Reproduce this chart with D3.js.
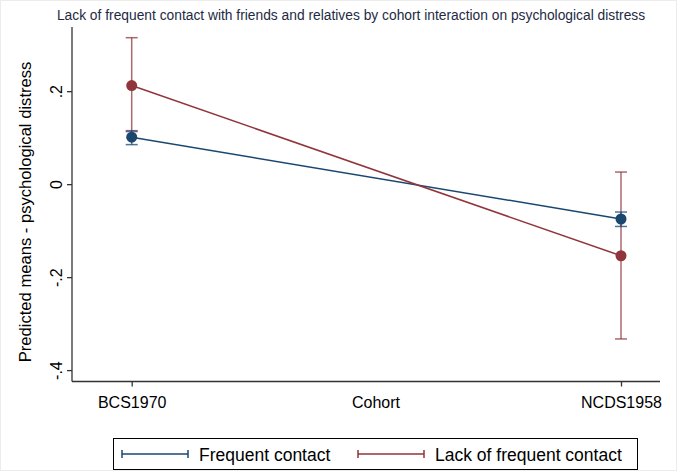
<!DOCTYPE html>
<html>
<head>
<meta charset="utf-8">
<script src="https://cdnjs.cloudflare.com/ajax/libs/d3/7.8.5/d3.min.js"></script>
<style>
  body { margin: 0; background: #fff; }
  text { font-family: "Liberation Sans", Arial, sans-serif; }
</style>
</head>
<body>
<svg id="chart"></svg>
<script>
/** * * * * CONSTANTS * * * */
const width = 677;
const height = 471;

const cohorts = ['BCS1970', 'NCDS1958'];
const seriesNames = ['Frequent contact', 'Lack of frequent contact'];
const frequentMeans = [0.101, -0.075];
const frequentLow = [0.085, -0.091];
const frequentHigh = [0.115, -0.060];
const lackMeans = [0.212, -0.154];
const lackLow = [0.113, -0.333];
const lackHigh = [0.315, 0.026];
const yTicks = [-0.4, -0.2, 0, 0.2];
const yTickLabels = ['-.4', '-.2', '0', '.2'];

const blue = '#1a476f';
const red = '#90353b';

const svg = d3.select('#chart')
  .attr('width', width)
  .attr('height', height);

// faint outer frame
svg.append('rect')
  .attr('x', 0.5).attr('y', 0.5)
  .attr('width', width - 1).attr('height', height - 1)
  .attr('fill', 'none')
  .attr('stroke', '#ececec');

const yScale = d3.scaleLinear()
  .domain([-0.4245, 0.338])
  .range([381.5, 27]);

const xScale = d3.scalePoint()
  .domain(cohorts)
  .range([131.7, 621]);

// axes
const yAxis = svg.append('g')
  .attr('transform', 'translate(72,0)')
  .call(d3.axisLeft(yScale).tickValues(yTicks).tickSize(5).tickFormat((d, i) => yTickLabels[i]));
yAxis.select('.domain').attr('d', `M0,${yScale.range()[1]}V${yScale.range()[0]}`);

yAxis.selectAll('.tick text')
  .attr('x', 0).attr('y', 0)
  .attr('dy', null)
  .attr('text-anchor', 'middle')
  .attr('transform', 'translate(-10,0) rotate(-90)')
  .style('font-size', '16px')
  .style('fill', '#000');

const xAxis = svg.append('g')
  .attr('transform', 'translate(0,381.5)')
  .call(d3.axisBottom(xScale).tickSize(5).tickSizeOuter(0));
xAxis.select('.domain').attr('d', 'M72,0H660');
xAxis.selectAll('.tick text')
  .attr('y', 26)
  .attr('dy', null)
  .style('font-size', '16px')
  .style('fill', '#000');

svg.selectAll('.domain, .tick line').attr('stroke', '#333').attr('stroke-width', 1.3);

// lines between cohorts
const line = d3.line()
  .x(function(d, i) { return xScale(cohorts[i]); })
  .y(function(d) { return yScale(d); });

const series = [
  { name: seriesNames[0], color: blue, mean: frequentMeans, lo: frequentLow, hi: frequentHigh },
  { name: seriesNames[1], color: red, mean: lackMeans, lo: lackLow, hi: lackHigh }
];

// error bars first (drawn behind lines)
series.slice().reverse().forEach(function(s) {
  const g = svg.append('g').attr('stroke', s.color).attr('stroke-opacity', 0.75).attr('stroke-width', 1.5);
  cohorts.forEach(function(c, i) {
    const x = xScale(c);
    g.append('line').attr('x1', x).attr('x2', x).attr('y1', yScale(s.lo[i])).attr('y2', yScale(s.hi[i]));
    g.append('line').attr('x1', x - 6).attr('x2', x + 6).attr('y1', yScale(s.lo[i])).attr('y2', yScale(s.lo[i]));
    g.append('line').attr('x1', x - 6).attr('x2', x + 6).attr('y1', yScale(s.hi[i])).attr('y2', yScale(s.hi[i]));
  });
});

series.forEach(function(s) {
  svg.append('path')
    .datum(s.mean)
    .attr('d', line)
    .attr('fill', 'none')
    .attr('stroke', s.color)
    .attr('stroke-width', 1.5);
  svg.selectAll(null)
    .data(s.mean)
    .enter()
    .append('circle')
    .attr('cx', function(d, i) { return xScale(cohorts[i]); })
    .attr('cy', function(d) { return yScale(d); })
    .attr('r', 5.5)
    .attr('fill', s.color);
});

// title and axis labels
svg.append('text')
  .attr('x', 351).attr('y', 20)
  .attr('text-anchor', 'middle')
  .style('font-size', '13.8px')
  .style('fill', '#1e2a44')
  .text('Lack of frequent contact with friends and relatives by cohort interaction on psychological distress');

svg.append('text')
  .attr('transform', 'translate(31,212) rotate(-90)')
  .attr('text-anchor', 'middle')
  .style('font-size', '16.6px')
  .style('fill', '#000')
  .text('Predicted means - psychological distress');

svg.append('text')
  .attr('x', 376).attr('y', 407.5)
  .attr('text-anchor', 'middle')
  .style('font-size', '16px')
  .style('fill', '#000')
  .text('Cohort');

// legend
const legend = svg.append('g');
legend.append('rect')
  .attr('x', 113.5).attr('y', 438.5)
  .attr('width', 524).attr('height', 31)
  .attr('fill', '#fff')
  .attr('stroke', '#000')
  .attr('stroke-width', 1);

const legendX = [122, 358];
series.forEach(function(s, i) {
  const x0 = legendX[i], x1 = x0 + 66, y = 454;
  const g = legend.append('g').attr('stroke', s.color).attr('stroke-width', 1.5);
  g.append('line').attr('x1', x0).attr('x2', x1).attr('y1', y).attr('y2', y);
  g.append('line').attr('x1', x0).attr('x2', x0).attr('y1', y - 4).attr('y2', y + 4);
  g.append('line').attr('x1', x1).attr('x2', x1).attr('y1', y - 4).attr('y2', y + 4);
  legend.append('text')
    .attr('x', x1 + 11).attr('y', 460.5)
    .style('font-size', '17.5px')
    .style('fill', '#000')
    .text(s.name);
});
</script>
</body>
</html>
